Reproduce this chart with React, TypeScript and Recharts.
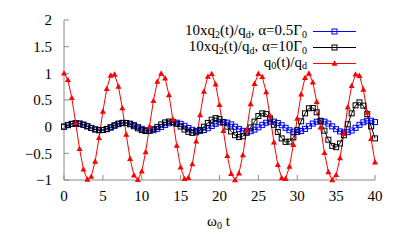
import React from "react";
import { LineChart, Line, XAxis, YAxis } from "recharts";

// time grid (omega_0 t)
const times = [
  0, 0.5, 1, 1.5, 2, 2.5, 3, 3.5, 4, 4.5, 5, 5.5, 6, 6.5, 7, 7.5, 8, 8.5, 9, 9.5,
  10, 10.5, 11, 11.5, 12, 12.5, 13, 13.5, 14, 14.5, 15, 15.5, 16, 16.5, 17, 17.5, 18, 18.5, 19, 19.5,
  20, 20.5, 21, 21.5, 22, 22.5, 23, 23.5, 24, 24.5, 25, 25.5, 26, 26.5, 27, 27.5, 28, 28.5, 29, 29.5,
  30, 30.5, 31, 31.5, 32, 32.5, 33, 33.5, 34, 34.5, 35, 35.5, 36, 36.5, 37, 37.5, 38, 38.5, 39, 39.5,
  40,
];

// 10 x q2(t)/qd, alpha = 0.5 Gamma0
const blueVals = [
  0, 0.029, 0.052, 0.062, 0.057, 0.038, 0.009, -0.023, -0.05, -0.065,
  -0.064, -0.048, -0.019, 0.015, 0.046, 0.066, 0.07, 0.057, 0.03, -0.005,
  -0.04, -0.066, -0.075, -0.067, -0.041, -0.005, 0.033, 0.063, 0.079, 0.075,
  0.053, 0.017, -0.024, -0.059, -0.081, -0.082, -0.064, -0.029, 0.013, 0.053,
  0.08, 0.088, 0.075, 0.043, -0.001, -0.045, -0.078, -0.093, -0.085, -0.056,
  -0.013, 0.034, 0.074, 0.095, 0.094, 0.069, 0.027, -0.022, -0.067, -0.095,
  -0.101, -0.081, -0.042, 0.009, 0.058, 0.093, 0.106, 0.093, 0.057, 0.006,
  -0.047, -0.089, -0.11, -0.103, -0.072, -0.022, 0.034, 0.082, 0.11, 0.112,
  0.086,
];

// 10 x q2(t)/qd, alpha = 10 Gamma0
const blackVals = [
  0, 0.029, 0.052, 0.062, 0.057, 0.036, 0.006, -0.026, -0.053, -0.066,
  -0.062, -0.042, -0.009, 0.027, 0.057, 0.072, 0.068, 0.044, 0.008, -0.032,
  -0.065, -0.082, -0.075, -0.048, -0.005, 0.042, 0.079, 0.096, 0.087, 0.053,
  0.002, -0.054, -0.097, -0.116, -0.105, -0.062, 0.0, 0.07, 0.13, 0.16,
  0.14, 0.08, 0.0, -0.09, -0.16, -0.195, -0.18, -0.115, -0.015, 0.095,
  0.2, 0.25, 0.235, 0.155, 0.035, -0.1, -0.22, -0.285, -0.28, -0.2,
  -0.065, 0.1, 0.25, 0.345, 0.35, 0.27, 0.11, -0.075, -0.245, -0.36,
  -0.385, -0.315, -0.16, 0.045, 0.25, 0.4, 0.455, 0.395, 0.235, 0.005,
  -0.22,
];

// q0(t)/qd
const redVals = [
  1, 0.878, 0.54, 0.071, -0.416, -0.801, -0.99, -0.936, -0.654, -0.211,
  0.284, 0.709, 0.96, 0.977, 0.754, 0.347, -0.146, -0.602, -0.911, -0.997,
  -0.839, -0.476, 0.004, 0.483, 0.844, 0.998, 0.907, 0.595, 0.137, -0.355,
  -0.76, -0.979, -0.958, -0.703, -0.275, 0.219, 0.66, 0.939, 0.989, 0.795,
  0.408, -0.079, -0.548, -0.882, -1.0, -0.874, -0.533, -0.063, 0.424, 0.806,
  0.991, 0.933, 0.647, 0.203, -0.292, -0.715, -0.962, -0.976, -0.748, -0.339,
  0.154, 0.609, 0.915, 0.996, 0.834, 0.468, -0.013, -0.491, -0.849, -0.999,
  -0.904, -0.588, -0.128, 0.363, 0.765, 0.981, 0.955, 0.697, 0.267, -0.227,
  -0.667,
];

const xTicks = [0, 5, 10, 15, 20, 25, 30, 35, 40];
const yTicks = [-1, -0.5, 0, 0.5, 1, 1.5, 2];

const data = times.map((t, i) => ({
  t,
  blue: blueVals[i],
  black: blackVals[i],
  red: redVals[i],
}));

const FONT = "Liberation Serif";
const AXIS_GRAY = "#8a8a8a";

const fmtY = (v: number) => (v < 0 ? "\u2212" + String(-v) : String(v));

const squareDot = (color: string) => (props: any) => {
  const { cx, cy, index } = props;
  if (cx == null || cy == null) return <g key={index} />;
  return (
    <rect
      key={index}
      x={cx - 2.5}
      y={cy - 2.5}
      width={5}
      height={5}
      fill="none"
      stroke={color}
      strokeWidth={1}
    />
  );
};

const triDot = (props: any) => {
  const { cx, cy, index } = props;
  if (cx == null || cy == null) return <g key={index} />;
  return (
    <polygon
      key={index}
      points={`${cx},${cy - 3.2} ${cx - 3},${cy + 2.2} ${cx + 3},${cy + 2.2}`}
      fill="#ff0000"
    />
  );
};

function LegendRow({ top, children, color, marker }: any) {
  return (
    <div style={{ position: "absolute", top, left: 0, width: 356, height: 12 }}>
      <div
        style={{
          position: "absolute",
          right: 49,
          top: -1,
          whiteSpace: "nowrap",
          fontSize: 15,
          lineHeight: "12px",
          fontFamily: FONT,
        }}
      >
        {children}
      </div>
      <svg style={{ position: "absolute", left: 313, top: 0 }} width={44} height={14}>
        <line x1={0} y1={6.5} x2={43} y2={6.5} stroke={color} strokeWidth={1} />
        {marker === "square" ? (
          <rect x={19} y={4} width={5} height={5} fill="none" stroke={color} />
        ) : (
          <polygon points="21.5,3.3 18.5,8.7 24.5,8.7" fill={color} />
        )}
      </svg>
    </div>
  );
}

const subStyle: React.CSSProperties = {
  fontSize: 10,
  position: "relative",
  top: 2.5,
  lineHeight: "7px",
};

export default function App() {
  return (
    <div
      style={{
        position: "absolute",
        left: 0,
        top: 0,
        width: 405,
        height: 249,
        background: "#fff",
        fontFamily: FONT,
        color: "#000",
      }}
    >
      <LineChart
        width={405}
        height={249}
        data={data}
        margin={{ top: 20, right: 30, left: 4, bottom: 39 }}
      >
        <XAxis
          dataKey="t"
          type="number"
          domain={[0, 40]}
          ticks={xTicks}
          height={30}
          stroke={AXIS_GRAY}
          tickSize={-5}
          tickMargin={15}
          tick={{ fill: "#000", fontSize: 15, fontFamily: FONT }}
        />
        <XAxis
          xAxisId="top"
          dataKey="t"
          type="number"
          orientation="top"
          domain={[0, 40]}
          ticks={xTicks}
          height={0}
          stroke={AXIS_GRAY}
          tickSize={-5}
          tick={false}
        />
        <YAxis
          type="number"
          domain={[-1, 2]}
          ticks={yTicks}
          width={60}
          stroke={AXIS_GRAY}
          tickSize={-5}
          tickMargin={17}
          tickFormatter={fmtY}
          tick={{ fill: "#000", fontSize: 15, fontFamily: FONT }}
        />
        <YAxis
          yAxisId="right"
          type="number"
          orientation="right"
          domain={[-1, 2]}
          ticks={yTicks}
          width={0}
          stroke={AXIS_GRAY}
          tickSize={-5}
          tick={false}
        />
        <Line
          type="linear"
          dataKey="blue"
          stroke="#0000ff"
          strokeWidth={1}
          dot={squareDot("#0000ff")}
          activeDot={false}
          isAnimationActive={false}
        />
        <Line
          type="linear"
          dataKey="black"
          stroke="#000000"
          strokeWidth={1}
          dot={squareDot("#000000")}
          activeDot={false}
          isAnimationActive={false}
        />
        <Line
          type="linear"
          dataKey="red"
          stroke="#ff0000"
          strokeWidth={1}
          dot={triDot}
          activeDot={false}
          isAnimationActive={false}
        />
      </LineChart>

      <LegendRow top={25} color="#0000ff" marker="square">
        10xq<span style={subStyle}>2</span>(t)/q<span style={subStyle}>d</span>, α=0.5Γ
        <span style={subStyle}>0</span>
      </LegendRow>
      <LegendRow top={41} color="#000000" marker="square">
        10xq<span style={subStyle}>2</span>(t)/q<span style={subStyle}>d</span>, α=10Γ
        <span style={subStyle}>0</span>
      </LegendRow>
      <LegendRow top={56.5} color="#ff0000" marker="tri">
        q<span style={subStyle}>0</span>(t)/q<span style={subStyle}>d</span>
      </LegendRow>

      <div
        style={{
          position: "absolute",
          left: 207,
          top: 214,
          fontSize: 15,
          lineHeight: "14px",
          whiteSpace: "nowrap",
        }}
      >
        ω<span style={subStyle}>0</span> t
      </div>
    </div>
  );
}
